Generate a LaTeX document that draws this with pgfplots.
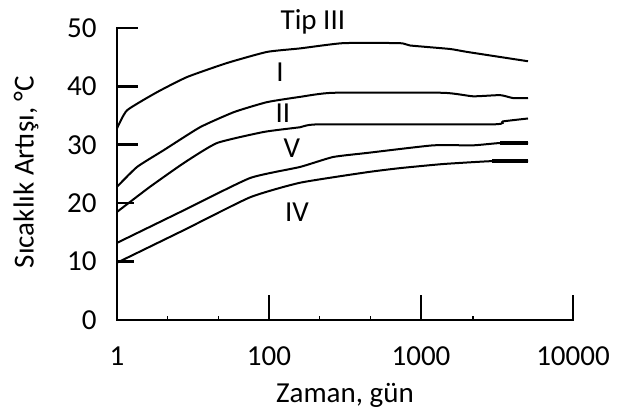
\documentclass[border=0pt]{standalone}
\usepackage{fontspec}
\setmainfont{Carlito}
\usepackage{pgfplots}
\pgfplotsset{compat=1.18}
\begin{document}
\begin{tikzpicture}[font=\fontsize{14.5}{17}\selectfont]
\begin{axis}[
  scale only axis,
  width=228pt, height=146pt,
  xmin=0, xmax=3, ymin=0, ymax=50,
  axis lines=left,
  axis line style={-, line width=1.3pt, line cap=rect},
  clip=false,
  tick align=inside,
  xtick={0},
  xticklabels={1},
  extra x ticks={1,2,3},
  extra x tick labels={100,1000,10000},
  extra x tick style={major tick length=12.5pt},
  minor xtick={0.333,0.667,1.333,1.667,2.342},
  ytick={0,30,40,50},
  extra y ticks={10,20},
  extra y tick style={major tick length=8.5pt},
  major tick length=10.5pt,
  major tick style={line width=1.3pt, black},
  minor tick style={line width=0.8pt, black},
  minor tick length=2pt,
  /pgf/number format/assume math mode=true,
  yticklabel style={anchor=east, inner sep=0pt, xshift=-10pt},
  xticklabel style={anchor=north, inner sep=0pt, yshift=-13pt},
  xlabel={Zaman, gün},
  ylabel={Sıcaklık Artışı, °C},
  xlabel style={at={(axis description cs:0.5,-0.284)}, anchor=base, inner sep=0pt},
  ylabel style={at={(axis description cs:-0.1996,0.507)}, anchor=center, inner sep=0pt},
]
% Tip III
\addplot[black, line width=1pt, smooth, tension=0.3] coordinates {(0,32.8) (0.066,35.9) (0.263,39.0) (0.461,41.6) (0.724,44.0) (0.987,45.9) (1.204,46.5) (1.487,47.4) (1.862,47.4) (1.928,47.0) (2.191,46.4) (2.303,45.9) (2.704,44.3)};
% I
\addplot[black, line width=1pt, smooth, tension=0.3] coordinates {(0,22.8) (0.132,26.2) (0.309,29.1) (0.546,33.0) (0.770,35.6) (0.987,37.3) (1.204,38.2) (1.421,38.9) (2.145,38.9) (2.342,38.3) (2.520,38.5) (2.605,38.0) (2.704,38.0)};
% II
\addplot[black, line width=1pt, smooth, tension=0.3] coordinates {(0,18.5) (0.217,22.8) (0.441,26.9) (0.658,30.3) (0.967,32.2) (1.204,33.0) (1.336,33.5) (2.474,33.5) (2.539,34.0) (2.704,34.5)};
% V
\addplot[black, line width=1pt, smooth, tension=0.3] coordinates {(0,13.2) (0.441,18.8) (0.875,24.3) (1.204,26.2) (1.421,27.9) (1.645,28.6) (2.079,29.9) (2.342,29.9) (2.520,30.3) (2.704,30.3)};
\addplot[black, line width=1.6pt] coordinates {(2.520,30.3) (2.704,30.3)};
% IV
\addplot[black, line width=1pt, smooth, tension=0.3] coordinates {(0,9.8) (0.441,15.4) (0.875,21.0) (1.204,23.5) (1.645,25.3) (1.862,26.0) (2.145,26.7) (2.467,27.2) (2.704,27.2)};
\addplot[black, line width=2pt] coordinates {(2.467,27.2) (2.704,27.2)};
\node[anchor=base] at (axis cs:1.289,49.66) {Tip III};
\node[anchor=base] at (axis cs:1.072,40.75) {I};
\node[anchor=base] at (axis cs:1.092,33.73) {II};
\node[anchor=base] at (axis cs:1.151,27.74) {V};
\node[anchor=base] at (axis cs:1.184,16.78) {IV};
\coordinate (bl) at (axis cs:-0.7697,-15.75);
\coordinate (tr) at (axis cs:3.3026,54.79);
\end{axis}
\pgfresetboundingbox
\useasboundingbox (bl) rectangle (tr);
\end{tikzpicture}
\end{document}
